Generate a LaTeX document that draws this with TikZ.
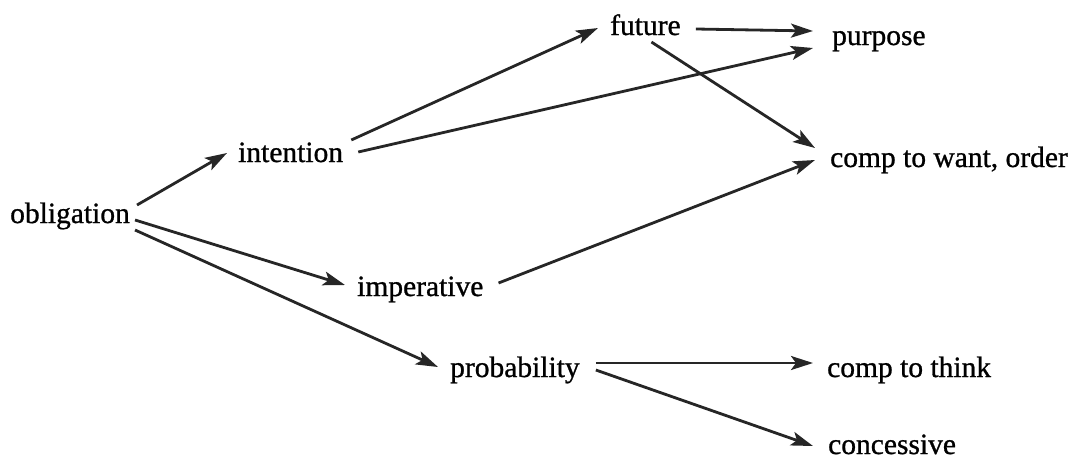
\documentclass[tikz,border=0pt]{standalone}
\usepackage{fontspec}
\setmainfont{Liberation Serif}
\newfontfamily\wordfont{Liberation Serif}[FakeBold=0.9]
\usetikzlibrary{arrows.meta}

\begin{document}
\begin{tikzpicture}[x=1pt,y=-1pt,
  word/.style={anchor=base west,inner sep=0pt,font=\wordfont\fontsize{29.5}{34}\selectfont},
  arr/.style={-{Stealth[length=22pt,width=14pt,inset=5pt]},line width=2.8pt,black!85}]
\useasboundingbox (0,0) rectangle (1068,461);
\node [word] (obligation) at (10,223) {obligation};
\node [word] (intention) at (238,162) {intention};
\node [word] (imperative) at (357,296) {imperative};
\node [word] (probability) at (450,377) {probability};
\node [word] (future) at (610,35) {future};
\node [word] (purpose) at (832,45) {purpose};
\node [word] (want) at (830,167) {comp to want, order};
\node [word] (think) at (827,377) {comp to think};
\node [word] (concessive) at (828,454) {concessive};
  % from obligation
  \draw [arr] ([shift={(7,-18)}]obligation.base east) -- ([shift={(-11,-9)}]intention.base west);
  \draw [arr] ([shift={(5,-3)}]obligation.base east) -- ([shift={(-12,-11)}]imperative.base west);
  \draw [arr] ([shift={(5,7)}]obligation.base east) -- ([shift={(-12,-10)}]probability.base west);
  % from intention
  \draw [arr] ([shift={(8,-22)}]intention.base east) -- ([shift={(-12,-7)}]future.base west);
  \draw [arr] ([shift={(15,-10)}]intention.base east) -- ([shift={(-19,3)}]purpose.base west);
  % from future and imperative
  \draw [arr] ([shift={(15,-6)}]future.base east) -- ([shift={(-19,-14)}]purpose.base west);
  \draw [arr] ([shift={(6,7)}]future.base) -- ([shift={(-15,-19)}]want.base west);
  \draw [arr] ([shift={(15,-13)}]imperative.base east) -- ([shift={(-15,-7)}]want.base west);
  % from probability
  \draw [arr] ([shift={(16,-14)}]probability.base east) -- ([shift={(-14,-14)}]think.base west);
  \draw [arr] ([shift={(16,-7)}]probability.base east) -- ([shift={(-15,-8)}]concessive.base west);
\end{tikzpicture}
\end{document}
